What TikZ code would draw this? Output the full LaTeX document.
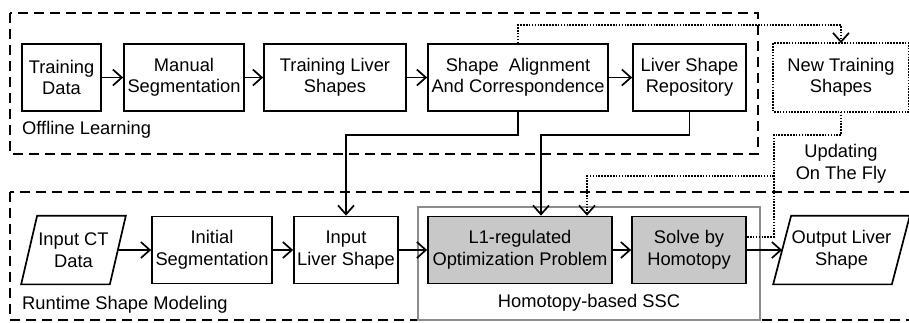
\documentclass[tikz,border=0pt]{standalone}
\usepackage{fontspec}
\setmainfont{Liberation Sans}
\usetikzlibrary{arrows.meta}
\definecolor{boxgray}{HTML}{C8C8C8}
\definecolor{framegray}{HTML}{8C8C8C}
\begin{document}
\begin{tikzpicture}[x=1pt,y=-1pt, font=\fontsize{18.3}{21.5}\selectfont,
  blk/.style={draw, line width=1.7pt, minimum height=67pt, inner sep=0pt, align=center},
  tipo/.style={-{Straight Barb[length=9pt,width=16pt,line width=1.7pt]}},
  arr/.style={line width=1.7pt, tipo},
  ln/.style={line width=1.7pt},
  dot/.style={line width=1.6pt, dash pattern=on 1.6pt off 1.3pt},
  region/.style={line width=1.9pt, dash pattern=on 10pt off 6pt},
  lbl/.style={inner sep=0pt, anchor=west}]
\useasboundingbox (0,0) rectangle (909,322);
\clip (0,0) rectangle (909,322);
\fill[white] (0,0) rectangle (909,322);
% regions
\draw[region] (10,13) rectangle (758,154);
\draw[region] (10,192) rectangle (940,320);
% container
\node[draw=framegray, line width=1.2pt, minimum width=342pt, minimum height=113pt, inner sep=0pt] (ssc) at (589,263.5) {};
\node[inner sep=0pt] (ssclbl) at (589,303) {Homotopy-based SSC};
% top row
\node[blk, minimum width=79pt] (td) at (61.5,77.5) {Training\\Data};
\node[blk, minimum width=120pt] (ms) at (184,77.5) {Manual\\Segmentation};
\node[blk, minimum width=142pt] (tls) at (335,77.5) {Training Liver\\Shapes};
\node[blk, minimum width=180pt] (saac) at (518,77.5) {Shape\ \ Alignment\\And Correspondence};
\node[blk, minimum width=113pt] (lsr) at (689.5,77.5) {Liver Shape\\Repository};
\node[blk, draw=none, minimum width=134pt] (nts) at (841,77.5) {New Training\\Shapes};
\draw[dot] (nts.north west) rectangle (nts.south east);
\node[lbl] (off) at (22,130) {Offline Learning};
% bottom row
\node[blk, draw=none, minimum width=87pt] (ict) at (73.5,250) {Input CT\\Data};
\draw[ln] ([xshift=8pt]ict.north west) -- ([xshift=8pt]ict.north east) -- ([xshift=-8pt]ict.south east) -- ([xshift=-8pt]ict.south west) -- cycle;
\node[blk, minimum width=120pt] (ism) at (212,250) {Initial\\Segmentation};
\node[blk, minimum width=104pt] (ils) at (346,250) {Input\\Liver Shape};
\node[blk, fill=boxgray, minimum width=184pt] (opt) at (520,250) {L1-regulated\\Optimization Problem};
\node[blk, fill=boxgray, minimum width=114pt] (sbh) at (689,250) {Solve by\\Homotopy};
\node[blk, draw=none, minimum width=117pt] (out) at (841.5,250) {Output Liver\\Shape};
\draw[ln] ([xshift=9pt]out.north west) -- ([xshift=9pt]out.north east) -- ([xshift=-9pt]out.south east) -- ([xshift=-9pt]out.south west) -- cycle;
\node[lbl] (rt) at (22,305) {Runtime Shape Modeling};
\node[inner sep=0pt, align=center] (upd) at (841,164) {Updating\\On The Fly};
% arrows top
\draw[arr] (td) -- (ms);
\draw[arr] (ms) -- (tls);
\draw[arr] (tls) -- (saac);
\draw[arr] (saac) -- (lsr);
% arrows bottom
\draw[arr] (ict) -- (ism);
\draw[arr] (ism) -- (ils);
\draw[arr] (ils) -- (opt);
\draw[arr] (opt) -- (sbh);
\draw[arr] (sbh) -- (out);
% feeds down
\coordinate (ya) at (0,135);
\coordinate (oin) at ([xshift=21pt]opt.north);
\draw[arr] (saac.south) |- (ya -| ils.north) -- (ils.north);
\draw[arr] (lsr.south) |- (ya -| oin) -- (oin);
% dotted
\coordinate (yt) at (0,25);
\draw[dot, tipo] (saac.north) -- (saac.north |- yt) -| (nts.north);
\coordinate (fa) at (774,135);
\coordinate (fb) at (774,176);
\coordinate (fc) at (774,237);
\coordinate (oin2) at ([xshift=67pt]opt.north);
\draw[dot] (nts.south) |- (fa) -- (fc) -- ([yshift=13pt]sbh.east);
\draw[dot, tipo] (fb) -| (oin2);
\end{tikzpicture}
\end{document}
